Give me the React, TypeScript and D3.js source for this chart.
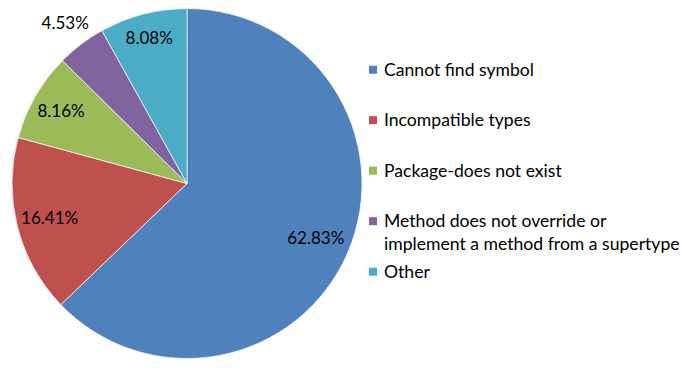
import React from 'react';
import * as d3 from 'd3';

// categories and values
const categories = [
  'Cannot find symbol',
  'Incompatible types',
  'Package-does not exist',
  'Method does not override or implement a method from a supertype',
  'Other',
];
const legendLines = [
  ['Cannot find symbol'],
  ['Incompatible types'],
  ['Package-does not exist'],
  ['Method does not override or', 'implement a method from a supertype'],
  ['Other'],
];
const shares = [62.83, 16.41, 8.16, 4.53, 8.08];
const colors = ['#4F81BD', '#C0504D', '#9BBB59', '#8064A2', '#4BACC6'];
// how far out (fraction of radius) Excel put each data label
const labelRadius = [0.8, 0.81, 0.83, 1.15, 0.86];

const W = 682;
const H = 371;
const FONT = 'Lato, "Open Sans", sans-serif';

const App = () => {
  const cx = 187;
  const cy = 183.5;
  const r = 175;

  const pie = d3.pie<number>().sort(null).value(d => d)(shares);
  const arc = d3.arc<d3.PieArcDatum<number>>().innerRadius(0).outerRadius(r);

  const legendX = 369;
  const legendTop = 75.7;
  const rowStep = 50.5;

  return (
    <svg width={W} height={H} style={{ position: 'absolute', left: 0, top: 0, background: '#fff' }}>
      <g transform={`translate(${cx},${cy})`}>
        {pie.map((p, i) => (
          <path key={i} d={arc(p) || ''} fill={colors[i]} stroke="#fff" strokeWidth={0.7} />
        ))}
        {pie.map((p, i) => {
          const a = (p.startAngle + p.endAngle) / 2;
          const rr = r * labelRadius[i];
          const x = Math.sin(a) * rr;
          const y = -Math.cos(a) * rr;
          return (
            <text key={i} x={x} y={y} dy="0.35em" textAnchor="middle"
              fontFamily={FONT} fontSize={17} fill="#000">
              {shares[i].toFixed(2)}%
            </text>
          );
        })}
      </g>
      <g>
        {categories.map((c, i) => {
          const base = legendTop + i * rowStep;
          return (
            <g key={c}>
              <rect x={legendX} y={base - 10} width={8} height={8} fill={colors[i]} />
              <text fontFamily={FONT} fontSize={17.6} fill="#000">
                {legendLines[i].map((l, j) => (
                  <tspan key={j} x={legendX + 15} y={base + j * 22.5}>{l}</tspan>
                ))}
              </text>
            </g>
          );
        })}
      </g>
    </svg>
  );
};

export default App;
